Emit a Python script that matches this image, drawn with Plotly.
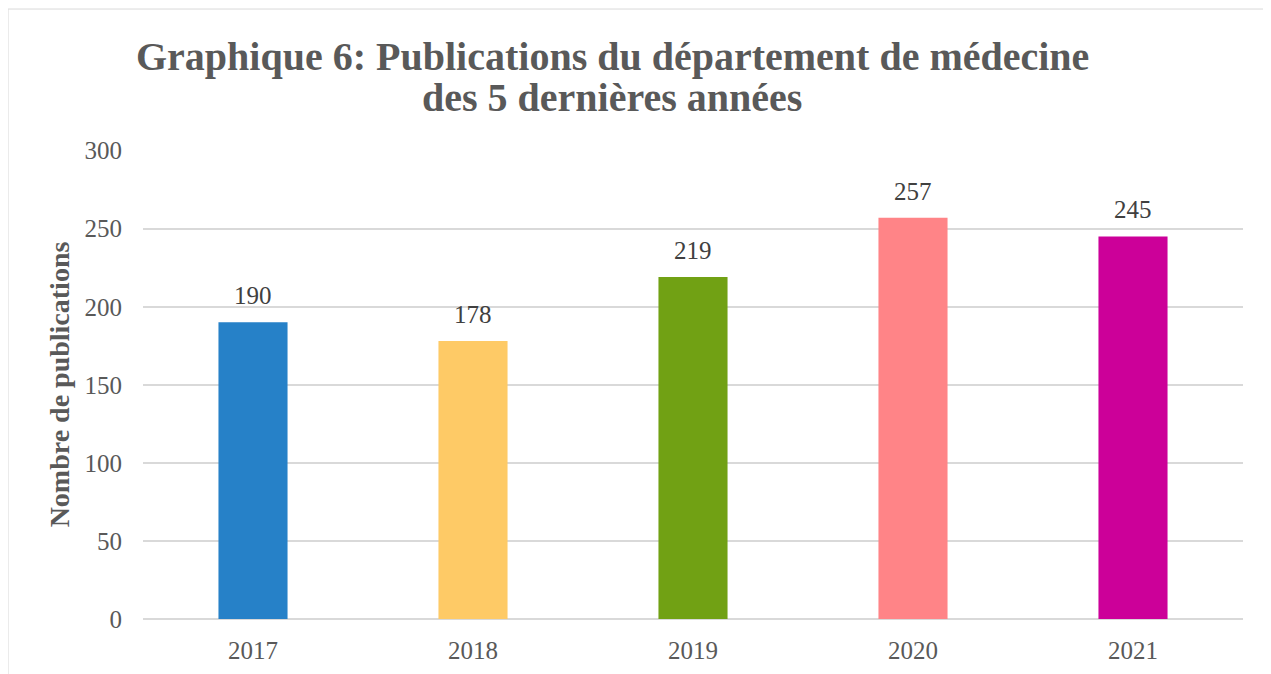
import plotly.graph_objects as go

years = ["2017", "2018", "2019", "2020", "2021"]
publications = [190, 178, 219, 257, 245]
bar_colors = ["#2681C8", "#FECA66", "#71A114", "#FF8487", "#CC0099"]
y_ticks = [0, 50, 100, 150, 200, 250, 300]
title_lines = ["Graphique 6: Publications du département de médecine",
               "des 5 dernières années"]

FONT = "Liberation Serif"
GREY = "#595959"

fig = go.Figure(go.Bar(
    x=years,
    y=publications,
    marker=dict(color=bar_colors, line=dict(width=0)),
    hoverinfo="x+y",
))

# value labels above bars (category axis -> position by index)
for i, val in enumerate(publications):
    fig.add_annotation(
        x=i, y=val, text=str(val), showarrow=False,
        xref="x", yref="y",
        yanchor="bottom", yshift=11,
        font=dict(family=FONT, size=25, color="#404040"),
    )

# two-line title, tighter line spacing than plotly's own title
for i, line in enumerate(title_lines):
    fig.add_annotation(
        text=f"<b>{line}</b>", showarrow=False,
        xref="paper", yref="paper",
        x=0.4264, xanchor="center",
        y=1.199 - i * 0.0875, yanchor="middle",
        font=dict(family=FONT, size=40, color=GREY),
    )

# light frame around the chart, as in the source image
fig.add_shape(type="line", xref="paper", yref="paper",
              x0=-0.1227, x1=1.2, y0=1.3006, y1=1.3006,
              line=dict(color="#D9D9D9", width=1))
fig.add_shape(type="line", xref="paper", yref="paper",
              x0=-0.1227, x1=-0.1227, y0=-0.2, y1=1.3006,
              line=dict(color="#D9D9D9", width=1))

fig.update_layout(
    width=1263, height=666,
    margin=dict(l=135, r=28, t=142, b=55),
    paper_bgcolor="white", plot_bgcolor="white",
    bargap=0.686,
    showlegend=False,
    font=dict(family=FONT, color=GREY),
    xaxis=dict(type="category", categoryorder="array", categoryarray=years,
               range=[-0.5, len(years) - 0.5]),
)

fig.update_xaxes(
    automargin=False,
    showgrid=False, showline=False, ticks="", ticklabelstandoff=14,
    tickfont=dict(family=FONT, size=25, color=GREY),
)
fig.update_yaxes(
    automargin=False,
    range=[0, 300.4], tickvals=y_ticks,
    showgrid=True, gridcolor="#D9D9D9", gridwidth=1.5,
    zeroline=True, zerolinecolor="#D9D9D9", zerolinewidth=1.5,
    showline=False, ticks="", ticklabelstandoff=20,
    tickfont=dict(family=FONT, size=25, color=GREY),
    title=dict(text="<b>Nombre de publications</b>", standoff=6,
               font=dict(family=FONT, size=28, color=GREY)),
)

fig.write_html("out.html")
